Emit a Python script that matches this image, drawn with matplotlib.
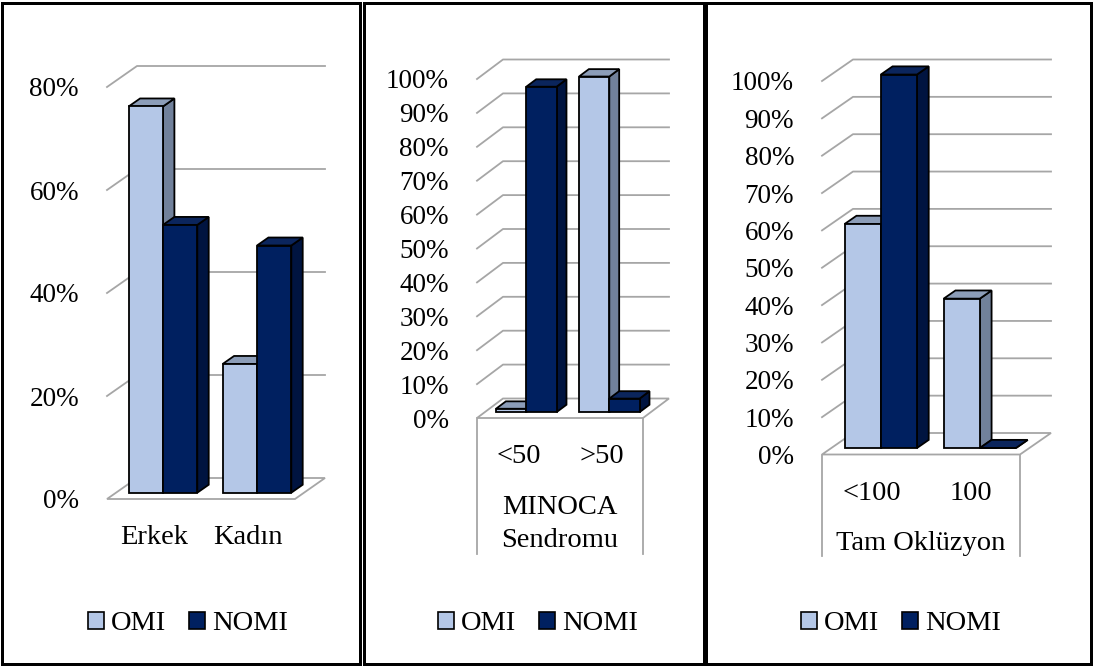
import matplotlib.pyplot as plt
from matplotlib.patches import Polygon, Rectangle, Patch
import numpy as np

plt.rcParams['font.family'] = ['Liberation Serif', 'DejaVu Serif']

# data
series = ['OMI', 'NOMI']

sex_labels = ['Erkek', 'Kadın']
sex_omi = [75, 25]
sex_nomi = [52, 48]

minoca_labels = ['<50', '>50']
minoca_group = ['MINOCA', 'Sendromu']
minoca_omi = [1, 99]
minoca_nomi = [96, 4]

occl_labels = ['<100', '100']
occl_group = ['Tam Oklüzyon']
occl_omi = [60, 40]
occl_nomi = [100, 0]

# colours: front, top, side
front_colors = ['#B4C7E7', '#002060']
top_colors = ['#8C9DB8', '#0B255C']
side_colors = ['#71819B', '#001440']
grid_color = '#A6A6A6'

W, H = 1093, 666
fig = plt.figure(figsize=(W / 100, H / 100), dpi=100)
PT = 0.72  # points per pixel at dpi 100

# layout of each panel in pixels: floor front x0, x1, floor front y0, y at ymax
panels = [
    dict(cats=sex_labels, vals=[sex_omi, sex_nomi], ymax=80, step=20,
         box=(107, 295, 499, 87), depth=(30, 21), group=None, label_box=None,
         frame=(1.5, 360.5), legend_x=188),
    dict(cats=minoca_labels, vals=[minoca_omi, minoca_nomi], ymax=100, step=10,
         box=(477, 643, 418, 79), depth=(26, 19.5), group=minoca_group, label_box=554,
         frame=(363.5, 703.5), legend_x=538),
    dict(cats=occl_labels, vals=[occl_omi, occl_nomi], ymax=100, step=10,
         box=(822, 1020, 454.5, 81), depth=(31, 21.5), group=occl_group, label_box=556,
         frame=(706, 1090.5), legend_x=901),
]

bar_w = 0.365   # fraction of category width
f_front = 0.30  # bar front position in floor depth
f_depth = 0.38  # bar depth relative to floor depth
edge_lw = 1.3
grid_lw = 1.3

for p in panels:
    x0, x1, y0, yt = p['box']
    n = len(p['cats'])
    ymax = p['ymax']
    ax = fig.add_axes([x0 / W, 1 - y0 / H, (x1 - x0) / W, (y0 - yt) / H])
    ax.set_xlim(0, n)
    ax.set_ylim(0, ymax)
    for s in ax.spines.values():
        s.set_visible(False)

    pxx = (x1 - x0) / n
    pxy = (y0 - yt) / ymax
    ddx = p['depth'][0] / pxx
    ddy = p['depth'][1] / pxy

    # walls: side diagonals and back gridlines
    ticks = np.arange(0, ymax + 1, p['step'])
    for v in ticks[1:]:
        ax.plot([0, ddx, n + ddx], [v, v + ddy, v + ddy], color=grid_color,
                lw=grid_lw, clip_on=False, zorder=1)
    floor = Polygon([(0, 0), (n, 0), (n + ddx, ddy), (ddx, ddy)], closed=True,
                    facecolor='white', edgecolor=grid_color, lw=grid_lw,
                    clip_on=False, zorder=1)
    ax.add_patch(floor)

    # y ticks
    ax.set_yticks(ticks)
    ax.set_yticklabels([f'{v}%' for v in ticks])
    ax.tick_params(axis='y', length=0, pad=28 * PT, labelsize=19.5)
    ax.set_xticks([])

    # bars
    z = 2
    for i in range(n):
        for s in range(len(series)):
            v = p['vals'][s][i]
            xl = i + (1 - 2 * bar_w) / 2 + s * bar_w + f_front * ddx
            yb = f_front * ddy
            bx, by = f_depth * ddx, f_depth * ddy
            side = Polygon([(xl + bar_w, yb), (xl + bar_w + bx, yb + by),
                            (xl + bar_w + bx, yb + v + by), (xl + bar_w, yb + v)],
                           closed=True, facecolor=side_colors[s], edgecolor='black',
                           lw=edge_lw, clip_on=False, zorder=z)
            top = Polygon([(xl, yb + v), (xl + bar_w, yb + v),
                           (xl + bar_w + bx, yb + v + by), (xl + bx, yb + v + by)],
                          closed=True, facecolor=top_colors[s], edgecolor='black',
                          lw=edge_lw, clip_on=False, zorder=z)
            front = Rectangle((xl, yb), bar_w, v, facecolor=front_colors[s],
                              edgecolor='black', lw=edge_lw, clip_on=False, zorder=z)
            for patch in (side, top, front):
                ax.add_patch(patch)
            z += 1

    # category labels
    for i, c in enumerate(p['cats']):
        ax.annotate(c, (i + 0.5, 0), xytext=(0, -45 * PT), textcoords='offset points',
                    ha='center', va='baseline', fontsize=20.5, annotation_clip=False)

    # group label box
    if p['label_box'] is not None:
        yb_box = -(p['label_box'] - y0) / pxy
        for xx in (0, n):
            ax.plot([xx, xx], [0, yb_box], color=grid_color, lw=grid_lw, clip_on=False)
    if p['group']:
        for k, line in enumerate(p['group']):
            ax.annotate(line, (n / 2, 0), xytext=(0, -(96 + 33 * k) * PT),
                        textcoords='offset points', ha='center', va='baseline',
                        fontsize=20.5, annotation_clip=False)

    # legend
    handles = [Patch(facecolor=front_colors[s], edgecolor='black', lw=1.2)
               for s in range(len(series))]
    ax.legend(handles, series, loc='center', bbox_to_anchor=(p['legend_x'] / W, 1 - 624 / H),
              bbox_transform=fig.transFigure, ncol=2, frameon=False, fontsize=20.5,
              handlelength=0.56, handleheight=0.56, handletextpad=0.25,
              columnspacing=0.8, borderpad=0, borderaxespad=0)

    # panel frame
    fl, fr = p['frame']
    fig.patches.append(Rectangle((fl / W, 2 / H), (fr - fl) / W, 661 / H,
                                 transform=fig.transFigure, fill=False,
                                 edgecolor='black', lw=3 * PT))

fig.savefig('out.png', dpi=100)
